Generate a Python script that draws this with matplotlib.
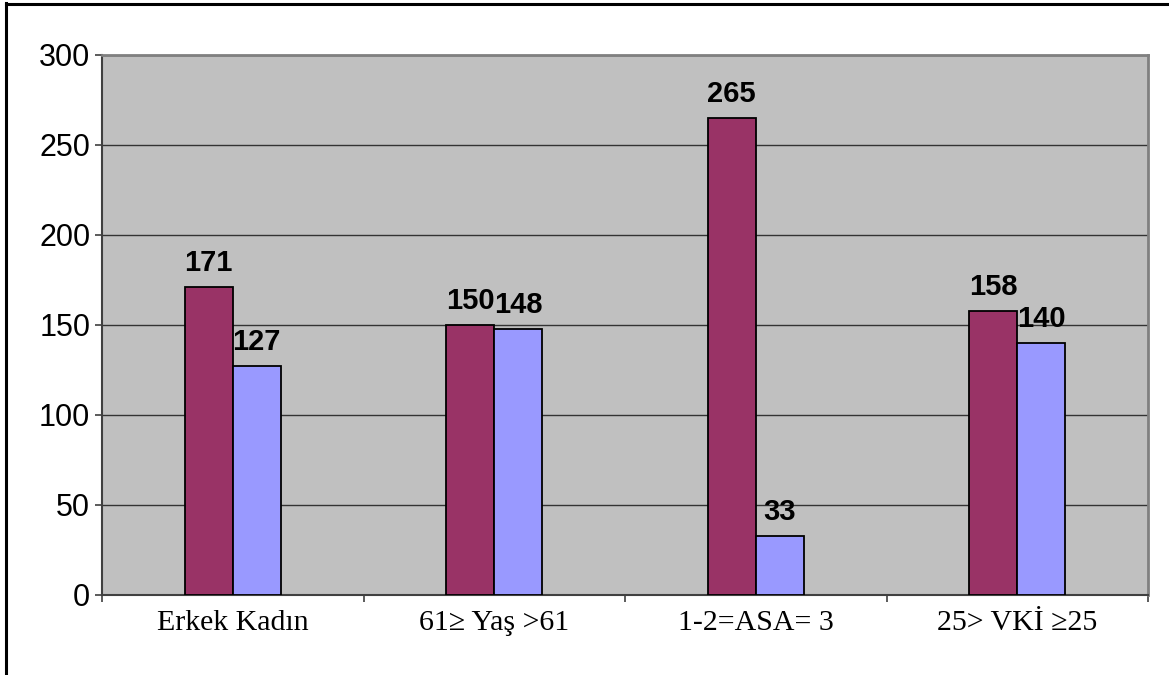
import matplotlib
matplotlib.use("Agg")
import matplotlib.pyplot as plt
from matplotlib.lines import Line2D
import numpy as np

categories = ["Erkek Kadın", "61≥ Yaş >61", "1-2=ASA= 3", "25> VKİ ≥25"]
series_a = [171, 150, 265, 158]
series_b = [127, 148, 33, 140]
y_ticks = [0, 50, 100, 150, 200, 250, 300]

W, H = 1169, 675
fig = plt.figure(figsize=(W / 100, H / 100), dpi=100)
fig.patch.set_facecolor("white")

ax = fig.add_axes([102 / W, 1 - 595 / H, (1148 - 102) / W, (595 - 55) / H])
ax.set_facecolor("#C0C0C0")

x = np.arange(len(categories))
bw = 0.184
ax.bar(x - bw / 2, series_a, width=bw, color="#993366", edgecolor="black",
       linewidth=1.3, zorder=3)
ax.bar(x + bw / 2, series_b, width=bw, color="#9999FF", edgecolor="black",
       linewidth=1.3, zorder=3)

for xi, v in zip(x - bw / 2, series_a):
    ax.annotate(str(v), (xi, v), xytext=(0, 11.5), textcoords="offset points",
                ha="center", va="baseline", fontsize=21, fontweight="bold",
                family=["Liberation Sans", "DejaVu Sans"], zorder=4)
for xi, v in zip(x + bw / 2, series_b):
    ax.annotate(str(v), (xi, v), xytext=(0, 11.5), textcoords="offset points",
                ha="center", va="baseline", fontsize=21, fontweight="bold",
                family=["Liberation Sans", "DejaVu Sans"], zorder=4)

ax.set_xlim(-0.5, len(categories) - 0.5)
ax.set_ylim(0, 300)
ax.set_yticks(y_ticks)
ax.set_yticklabels([str(t) for t in y_ticks], fontsize=22,
                   family=["Liberation Sans", "DejaVu Sans"])
ax.yaxis.grid(True, color="#333333", linewidth=1.0, zorder=1)
ax.set_axisbelow(True)

ax.set_xticks(x)
ax.set_xticklabels(categories, fontsize=21.5,
                   family=["Liberation Serif", "DejaVu Serif"])
ax.set_xticks(np.arange(len(categories) + 1) - 0.5, minor=True)
ax.tick_params(axis="x", which="major", length=0, pad=11)
ax.tick_params(axis="x", which="minor", length=5, width=1.2, color="#404040",
               direction="out")
ax.tick_params(axis="y", which="major", length=5, width=1.2, color="#404040",
               direction="out", pad=3.5)

for s in ax.spines.values():
    s.set_color("#808080")
    s.set_linewidth(2)
ax.spines["left"].set_color("#404040")
ax.spines["left"].set_linewidth(1.5)
ax.spines["bottom"].set_color("#404040")
ax.spines["bottom"].set_linewidth(1.5)

# outer frame (top and left edges visible)
fig.add_artist(Line2D([6 / W, 1.0], [1 - 4.3 / H, 1 - 4.3 / H],
                      transform=fig.transFigure, color="black", linewidth=2.2))
fig.add_artist(Line2D([6 / W, 6 / W], [0.0, 1 - 3.3 / H],
                      transform=fig.transFigure, color="black", linewidth=2.2))

fig.savefig("out.png", dpi=100)
